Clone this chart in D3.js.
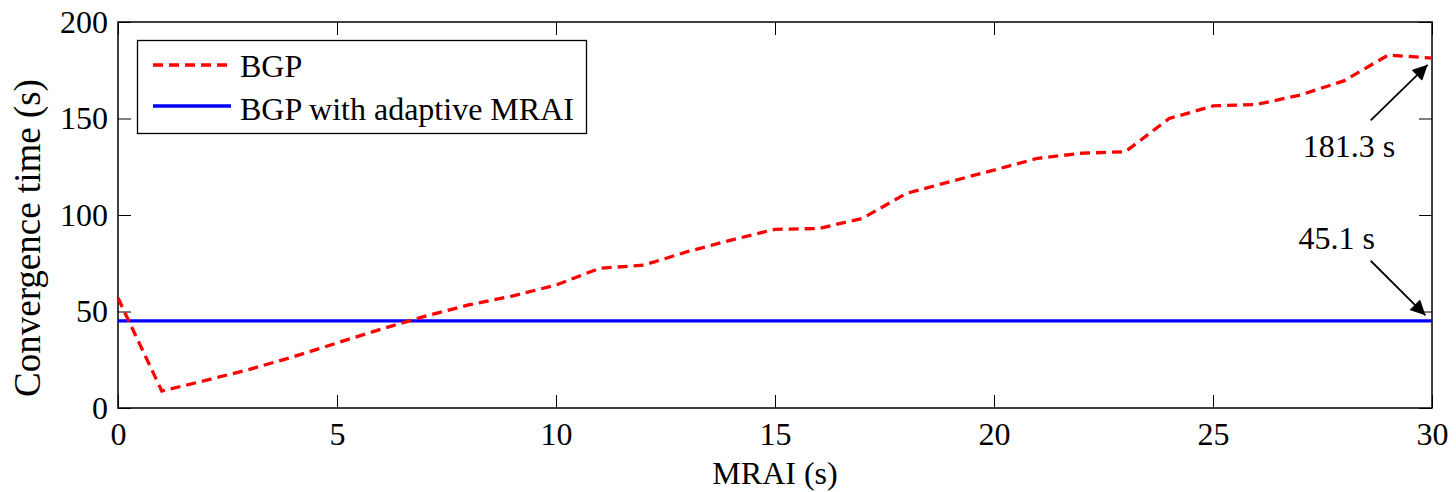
<!DOCTYPE html>
<html><head><meta charset="utf-8">
<script src="https://cdn.jsdelivr.net/npm/d3@7"></script>
<style>body{margin:0;background:#fff}svg{display:block}text{font-family:"Liberation Serif","Times New Roman",serif;fill:#000}</style>
</head><body>
<svg id="c" width="1456" height="492"></svg>
<script>
const mrai = d3.range(0,31);
const bgp = [57,8.8,14.3,20,26.5,33.7,40.8,47.5,53.4,58,63.7,72.4,74,81,87,92.6,93,98.3,111.2,117.3,123.3,129.4,132,132.8,150,156.5,157.3,162.2,169.6,182.9,181.3];
const adaptive = mrai.map(()=>45.1);
const xTicks = [0,5,10,15,20,25,30];
const yTicks = [0,50,100,150,200];
const seriesNames = ["BGP","BGP with adaptive MRAI"];
const annotations = [
  {text:"181.3 s", from:[28.6,149], to:[29.9,177.8], tx:27.05, ty:130},
  {text:"45.1 s", from:[28.6,76.3], to:[29.85,48], tx:26.95, ty:82.4}
];

const svg = d3.select("#c");
const L=118,R=1432,T=22,B=408;
const x = d3.scaleLinear().domain([0,30]).range([L,R]);
const y = d3.scaleLinear().domain([0,200]).range([B,T]);
const fs = 32;

svg.append("defs").append("marker").attr("id","ah").attr("viewBox","0 0 10 10")
  .attr("refX",10).attr("refY",5).attr("markerWidth",21).attr("markerHeight",15)
  .attr("markerUnits","userSpaceOnUse").attr("orient","auto")
  .append("path").attr("d","M0,0L10,5L0,10z").attr("fill","#000");

const g = svg.append("g");
const tl=13;
const styleAxis = a=>{a.attr("font-family",null).attr("font-size",null);a.select(".domain").remove();a.selectAll("text").attr("font-size",fs);};
g.append("g").attr("transform",`translate(0,${B})`).call(d3.axisBottom(x).tickValues(xTicks).tickSize(-tl).tickPadding(14)).call(styleAxis);
g.append("g").attr("transform",`translate(0,${T})`).call(d3.axisTop(x).tickValues(xTicks).tickSize(-tl).tickFormat("")).call(styleAxis);
g.append("g").attr("transform",`translate(${L},0)`).call(d3.axisLeft(y).tickValues(yTicks).tickSize(-tl).tickPadding(10)).call(styleAxis);
g.append("g").attr("transform",`translate(${R},0)`).call(d3.axisRight(y).tickValues(yTicks).tickSize(-tl).tickFormat("")).call(styleAxis);
g.selectAll(".tick line").attr("stroke","#000").attr("stroke-width",1);
g.append("rect").attr("x",L).attr("y",T).attr("width",R-L).attr("height",B-T).attr("fill","none").attr("stroke","#000").attr("stroke-width",1.5);

const line = d3.line().x((d,i)=>x(mrai[i])).y(d=>y(d));
svg.append("path").datum(adaptive).attr("d",line).attr("fill","none").attr("stroke","#0000ff").attr("stroke-width",3.3);
svg.append("path").datum(bgp).attr("d",line).attr("fill","none").attr("stroke","#ff0000").attr("stroke-width",3.3).attr("stroke-dasharray","10,6");

// legend
const lg = svg.append("g");
lg.append("rect").attr("x",137.5).attr("y",40.5).attr("width",449).attr("height",93).attr("fill","#fff").attr("stroke","#000").attr("stroke-width",1.3);
lg.append("line").attr("x1",153).attr("x2",229).attr("y1",65).attr("y2",65).attr("stroke","#ff0000").attr("stroke-width",3.3).attr("stroke-dasharray","10,6");
lg.append("line").attr("x1",153).attr("x2",231).attr("y1",106).attr("y2",106).attr("stroke","#0000ff").attr("stroke-width",3.3);
lg.append("text").attr("x",240).attr("y",77).attr("font-size",fs).text(seriesNames[0]);
lg.append("text").attr("x",240).attr("y",120).attr("font-size",fs).text(seriesNames[1]);

// annotations
annotations.forEach(a=>{
  svg.append("line").attr("x1",x(a.from[0])).attr("y1",y(a.from[1])).attr("x2",x(a.to[0])).attr("y2",y(a.to[1]))
    .attr("stroke","#000").attr("stroke-width",1.8).attr("marker-end","url(#ah)");
  svg.append("text").attr("x",x(a.tx)).attr("y",y(a.ty)).attr("font-size",fs).text(a.text);
});

// titles
svg.append("text").attr("x",(L+R)/2).attr("y",484).attr("text-anchor","middle").attr("font-size",fs).text("MRAI (s)");
svg.append("text").attr("transform",`translate(40,238) rotate(-90)`).attr("text-anchor","middle").attr("font-size",37).text("Convergence time (s)");
</script>
</body></html>
